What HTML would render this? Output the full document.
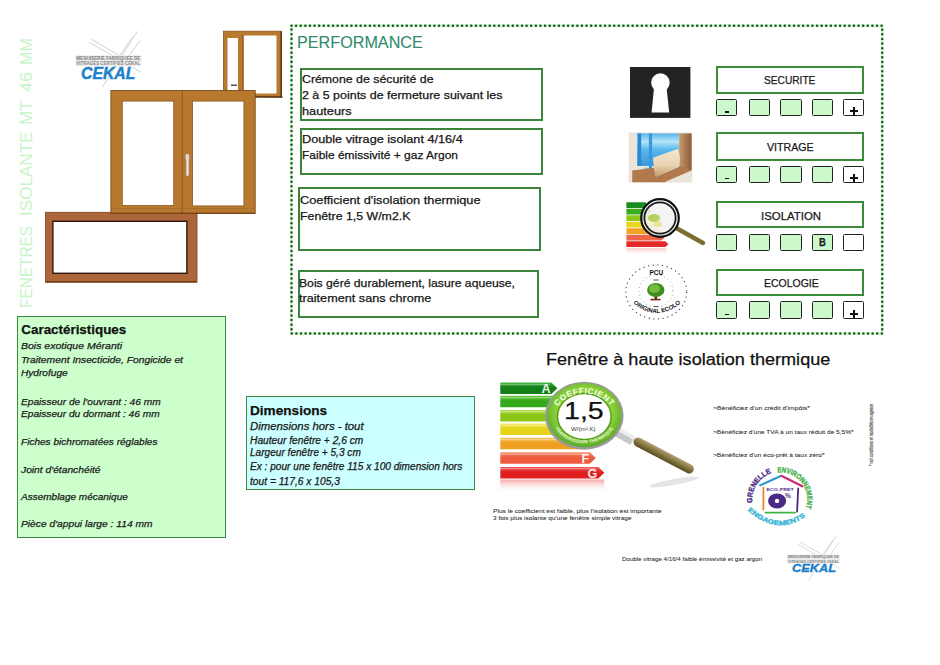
<!DOCTYPE html>
<html><head><meta charset="utf-8"><style>
html,body{margin:0;padding:0;background:#fff;}
body{width:940px;height:665px;position:relative;overflow:hidden;font-family:"Liberation Sans",sans-serif;}
.t{position:absolute;white-space:nowrap;line-height:1;transform-origin:0 0;-webkit-text-stroke:0.25px currentColor;}
.a{position:absolute;box-sizing:border-box;}
svg{position:absolute;overflow:visible;}
</style></head><body>
<svg style="left:0;top:0" width="940" height="665" viewBox="0 0 940 665"><g transform="translate(75.3,55.3) scale(1.0)" stroke="#b8b8b8" stroke-width="0.7" fill="none" opacity="0.9"><line x1="16" y1="-16" x2="44" y2="0"/><line x1="14" y1="-13" x2="66" y2="17"/><line x1="62" y1="-24" x2="27" y2="32"/><line x1="57" y1="-18" x2="38" y2="10"/><line x1="65" y1="-15" x2="48" y2="8"/></g><g transform="translate(75.3,55.3) scale(1.0)"><rect x="0" y="0" width="66" height="11" fill="#ebebeb"/><text x="1" y="4.6" font-family="Liberation Sans" font-weight="bold" font-size="4.6" fill="#808080" textLength="64" lengthAdjust="spacingAndGlyphs">MENUISERIE FABRIQUEE DE</text><text x="1" y="9.9" font-family="Liberation Sans" font-weight="bold" font-size="4.6" fill="#8a8a8a" textLength="64" lengthAdjust="spacingAndGlyphs">VITRAGES CERTIFIES CEKAL</text></g></svg>
<svg style="left:0;top:0" width="940" height="665" viewBox="0 0 940 665"><g transform="translate(787,554.7) scale(0.8)" stroke="#b8b8b8" stroke-width="0.7" fill="none" opacity="0.9"><line x1="16" y1="-16" x2="44" y2="0"/><line x1="14" y1="-13" x2="66" y2="17"/><line x1="62" y1="-24" x2="27" y2="32"/><line x1="57" y1="-18" x2="38" y2="10"/><line x1="65" y1="-15" x2="48" y2="8"/></g><g transform="translate(787,554.7) scale(0.8)"><rect x="0" y="0" width="66" height="11" fill="#ebebeb"/><text x="1" y="4.6" font-family="Liberation Sans" font-weight="bold" font-size="4.6" fill="#808080" textLength="64" lengthAdjust="spacingAndGlyphs">MENUISERIE FABRIQUEE DE</text><text x="1" y="9.9" font-family="Liberation Sans" font-weight="bold" font-size="4.6" fill="#8a8a8a" textLength="64" lengthAdjust="spacingAndGlyphs">VITRAGES CERTIFIES CEKAL</text></g></svg>
<svg style="left:0;top:0" width="940" height="665" viewBox="0 0 940 665">
<!-- small top window -->
<rect x="223.5" y="31.2" width="58" height="66" fill="#b87a2e"/>
<rect x="223.5" y="31.2" width="58" height="66" fill="none" stroke="#8a561c" stroke-width="0.8"/>
<rect x="227.5" y="38" width="10.5" height="52" fill="#fff"/>
<rect x="243.5" y="35.5" width="33" height="58" fill="#fff"/>
<line x1="243" y1="35" x2="243" y2="94" stroke="#7a4a18" stroke-width="1"/>
<line x1="242" y1="96.5" x2="282.5" y2="97" stroke="#5a3a18" stroke-width="1.3"/>
<line x1="281.2" y1="31.5" x2="281.2" y2="97" stroke="#4a2e12" stroke-width="1.3"/>
<rect x="231" y="84.5" width="6" height="1.5" fill="#555"/>
<!-- bottom wide window -->
<rect x="45.5" y="212.3" width="151.5" height="70" fill="#ad653a"/>
<rect x="45.5" y="212.3" width="151.5" height="70" fill="none" stroke="#7a4020" stroke-width="0.8"/>
<rect x="52.9" y="221.3" width="134" height="52" fill="#fff" stroke="#2e160a" stroke-width="1.4"/>
<line x1="46" y1="281.6" x2="196" y2="281.6" stroke="#6a3a1a" stroke-width="1"/>
<!-- double window -->
<rect x="110.9" y="90.5" width="144.3" height="123" fill="#b8782e"/>
<rect x="110.9" y="90.5" width="144.3" height="123" fill="none" stroke="#7a4e1c" stroke-width="0.9"/>
<rect x="122.3" y="101.1" width="51.4" height="104.4" fill="#fff" stroke="#8a5a22" stroke-width="0.8"/>
<rect x="192.6" y="101.1" width="51.3" height="104.8" fill="#fff" stroke="#8a5a22" stroke-width="0.8"/>
<line x1="182.3" y1="91" x2="182.3" y2="213" stroke="#8a5a22" stroke-width="1"/>
<line x1="111" y1="208.5" x2="255" y2="208.5" stroke="#a06a28" stroke-width="0.6"/>
<line x1="111" y1="213.2" x2="255" y2="213.2" stroke="#6a3a12" stroke-width="1"/>
<rect x="186.2" y="155" width="2.6" height="21" rx="1" fill="#e8e8e8" stroke="#999" stroke-width="0.4"/>
<rect x="185.6" y="154" width="3.6" height="6" rx="1" fill="#d8d8d8"/>
</svg>
<svg style="left:0;top:0" width="940" height="665" viewBox="0 0 940 665">
<rect x="291.5" y="25.7" width="590.7" height="307.9" fill="none" stroke="#d6f7d6" stroke-width="3.2"/>
<rect x="291.5" y="25.7" width="590.7" height="307.9" fill="none" stroke="#1e521e" stroke-width="2.5" stroke-dasharray="0.01 4.6" stroke-linecap="round"/>
</svg>
<div class="a" style="left:300px;top:67.5px;width:242.5px;height:53.5px;border:2px solid #3b853b;"></div>
<div class="a" style="left:300px;top:127.5px;width:242.5px;height:47.5px;border:2px solid #3b853b;"></div>
<div class="a" style="left:298px;top:187.2px;width:242.5px;height:63.8px;border:2px solid #3b853b;"></div>
<div class="a" style="left:297.5px;top:270.3px;width:241.5px;height:48.2px;border:2px solid #3b853b;"></div>
<div class="a" style="left:715.6px;top:65.6px;width:148.9px;height:28.2px;border:2px solid #3b8c3b;background:#fff;"></div>
<div class="a" style="left:715.6px;top:132.1px;width:148.9px;height:28.8px;border:2px solid #3b8c3b;background:#fff;"></div>
<div class="a" style="left:715.6px;top:200.9px;width:148.9px;height:27.5px;border:2px solid #3b8c3b;background:#fff;"></div>
<div class="a" style="left:715.6px;top:268.9px;width:148.9px;height:26.8px;border:2px solid #3b8c3b;background:#fff;"></div>
<div class="a" style="left:715.6px;top:98.8px;width:21.2px;height:17.0px;border:1.9px solid #222;border-radius:1.5px;background:#ccf9cc;"></div>
<div class="a" style="left:748.8px;top:98.8px;width:21.2px;height:17.0px;border:1.9px solid #222;border-radius:1.5px;background:#ccf9cc;"></div>
<div class="a" style="left:780.4px;top:98.8px;width:21.2px;height:17.0px;border:1.9px solid #222;border-radius:1.5px;background:#ccf9cc;"></div>
<div class="a" style="left:811.9px;top:98.8px;width:21.2px;height:17.0px;border:1.9px solid #222;border-radius:1.5px;background:#ccf9cc;"></div>
<div class="a" style="left:842.9px;top:98.8px;width:21.2px;height:17.0px;border:1.9px solid #222;border-radius:1.5px;background:#fff;"></div>
<div class="a" style="left:724.9px;top:111.1px;width:4.5px;height:1.6px;background:#111;"></div>
<div class="a" style="left:850.1999999999999px;top:110.39999999999999px;width:7.6px;height:1.8px;background:#111;"></div>
<div class="a" style="left:853.1px;top:107.2px;width:1.8px;height:8.4px;background:#111;"></div>
<div class="a" style="left:715.6px;top:165.6px;width:21.2px;height:17.0px;border:1.9px solid #222;border-radius:1.5px;background:#ccf9cc;"></div>
<div class="a" style="left:748.8px;top:165.6px;width:21.2px;height:17.0px;border:1.9px solid #222;border-radius:1.5px;background:#ccf9cc;"></div>
<div class="a" style="left:780.4px;top:165.6px;width:21.2px;height:17.0px;border:1.9px solid #222;border-radius:1.5px;background:#ccf9cc;"></div>
<div class="a" style="left:811.9px;top:165.6px;width:21.2px;height:17.0px;border:1.9px solid #222;border-radius:1.5px;background:#ccf9cc;"></div>
<div class="a" style="left:842.9px;top:165.6px;width:21.2px;height:17.0px;border:1.9px solid #222;border-radius:1.5px;background:#fff;"></div>
<div class="a" style="left:724.9px;top:177.9px;width:4.5px;height:1.6px;background:#111;"></div>
<div class="a" style="left:850.1999999999999px;top:177.2px;width:7.6px;height:1.8px;background:#111;"></div>
<div class="a" style="left:853.1px;top:174.0px;width:1.8px;height:8.4px;background:#111;"></div>
<div class="a" style="left:715.6px;top:233.7px;width:21.2px;height:17.2px;border:1.9px solid #222;border-radius:1.5px;background:#ccf9cc;"></div>
<div class="a" style="left:748.8px;top:233.7px;width:21.2px;height:17.2px;border:1.9px solid #222;border-radius:1.5px;background:#ccf9cc;"></div>
<div class="a" style="left:780.4px;top:233.7px;width:21.2px;height:17.2px;border:1.9px solid #222;border-radius:1.5px;background:#ccf9cc;"></div>
<div class="a" style="left:811.9px;top:233.7px;width:21.2px;height:17.2px;border:1.9px solid #222;border-radius:1.5px;background:#ccf9cc;"></div>
<div class="a" style="left:842.9px;top:233.7px;width:21.2px;height:17.2px;border:1.9px solid #222;border-radius:1.5px;background:#fff;"></div>
<div class="a" style="left:715.6px;top:301.4px;width:21.2px;height:17.2px;border:1.9px solid #222;border-radius:1.5px;background:#ccf9cc;"></div>
<div class="a" style="left:748.8px;top:301.4px;width:21.2px;height:17.2px;border:1.9px solid #222;border-radius:1.5px;background:#ccf9cc;"></div>
<div class="a" style="left:780.4px;top:301.4px;width:21.2px;height:17.2px;border:1.9px solid #222;border-radius:1.5px;background:#ccf9cc;"></div>
<div class="a" style="left:811.9px;top:301.4px;width:21.2px;height:17.2px;border:1.9px solid #222;border-radius:1.5px;background:#ccf9cc;"></div>
<div class="a" style="left:842.9px;top:301.4px;width:21.2px;height:17.2px;border:1.9px solid #222;border-radius:1.5px;background:#fff;"></div>
<div class="a" style="left:724.9px;top:313.7px;width:4.5px;height:1.6px;background:#111;"></div>
<div class="a" style="left:850.1999999999999px;top:313.0px;width:7.6px;height:1.8px;background:#111;"></div>
<div class="a" style="left:853.1px;top:309.79999999999995px;width:1.8px;height:8.4px;background:#111;"></div>
<svg style="left:0;top:0" width="940" height="665" viewBox="0 0 940 665">
<rect x="630" y="67" width="60.4" height="50.9" fill="#232323"/>
<circle cx="660.4" cy="82.6" r="9.25" fill="#fff"/>
<polygon points="654,88 666.6,88 669.2,112.5 651.6,112.5" fill="#fff"/>
</svg>
<svg style="left:0;top:0" width="940" height="665" viewBox="0 0 940 665">
<defs>
<linearGradient id="gb" x1="0" y1="0" x2="0" y2="1"><stop offset="0" stop-color="#5ab4ea"/><stop offset="0.25" stop-color="#b4e6fa"/><stop offset="0.5" stop-color="#5ab8ec"/><stop offset="1" stop-color="#3a96dc"/></linearGradient>
<linearGradient id="wd" x1="0" y1="0" x2="0" y2="1"><stop offset="0" stop-color="#f4ead6"/><stop offset="0.6" stop-color="#e6d2b0"/><stop offset="1" stop-color="#c49a6c"/></linearGradient>
<linearGradient id="wr" x1="0" y1="0" x2="1" y2="0"><stop offset="0" stop-color="#c89a6a"/><stop offset="1" stop-color="#8a5a3a"/></linearGradient>
</defs>
<rect x="628.6" y="132.5" width="63.6" height="50.1" fill="#ebe4d9"/>
<rect x="637.2" y="133.4" width="42" height="32.5" fill="url(#gb)"/>
<rect x="637.6" y="133.4" width="3.6" height="32.5" fill="#2a88d4"/>
<rect x="648.9" y="133.4" width="3.2" height="36.5" fill="#3a98dc"/>
<rect x="644" y="167.7" width="4.5" height="6.3" fill="#7cc8ee"/>
<rect x="679.2" y="133.4" width="12.4" height="37" fill="url(#wr)"/>
<polygon points="632.2,170.4 654.8,167.7 655.7,176.7 681,165.9 691.8,170.4 664.7,182.2 632.2,182.2" fill="#b07a4c"/>
<polygon points="653,157.8 678.2,148.8 680,157.8 679.2,165.9 655.7,176.7 653.9,168.6" fill="url(#wd)"/>
<polygon points="664.7,182.2 691.8,170.4 691.8,182.2" fill="#ebe4d9"/>
</svg>
<svg style="left:0;top:0" width="940" height="665" viewBox="0 0 940 665"><defs><linearGradient id="refl2" x1="0" y1="0" x2="0" y2="1"><stop offset="0" stop-color="#f4a0a0" stop-opacity="0.6"/><stop offset="1" stop-color="#fff" stop-opacity="0"/></linearGradient></defs><g transform="translate(626.4,202.3) scale(1.0)"><polygon points="0,0.0 19,0.0 22,2.9 19,5.8 0,5.8" fill="#1b8a1f"/><polygon points="0,6.5 22,6.5 25,9.4 22,12.3 0,12.3" fill="#3aad1e"/><polygon points="0,13.0 25,13.0 28,15.9 25,18.8 0,18.8" fill="#8fc61c"/><polygon points="0,19.5 28,19.5 31,22.4 28,25.3 0,25.3" fill="#e9d61f"/><polygon points="0,26.0 31,26.0 34,28.9 31,31.8 0,31.8" fill="#f2a324"/><polygon points="0,32.5 35,32.5 38,35.4 35,38.3 0,38.3" fill="#f0664a"/><polygon points="0,39.0 39,39.0 42,41.9 39,44.8 0,44.8" fill="#e62a2a"/><rect x="0" y="46" width="40" height="7" fill="url(#refl2)"/></g>
<line x1="677" y1="228.5" x2="703" y2="243" stroke="#7d6d33" stroke-width="4.4" stroke-linecap="round"/>
<circle cx="660" cy="218" r="18.8" fill="#f2f2f2" fill-opacity="0.88" stroke="#111" stroke-width="2.2"/>
<circle cx="660" cy="218" r="15.6" fill="none" stroke="#1a1a1a" stroke-width="1.8"/>
<ellipse cx="654" cy="218" rx="6" ry="4" fill="#a6c83a" opacity="0.8"/>
<ellipse cx="658" cy="224" rx="4" ry="3" fill="#e6e07a" opacity="0.8"/>
</svg>
<svg style="left:0;top:0" width="940" height="665" viewBox="0 0 940 665">
<ellipse cx="656.3" cy="292" rx="30.5" ry="27" fill="none" stroke="#333" stroke-width="1.1" stroke-dasharray="1.1 3.6"/>
<ellipse cx="656" cy="291" rx="17" ry="16" fill="none" stroke="#666" stroke-width="0.7" stroke-dasharray="0.9 3"/>
<rect x="654.5" y="293" width="2.6" height="6.5" fill="#6a2a1a"/>
<rect x="650.5" y="298.8" width="10" height="1.6" fill="#7a2a1a"/>
<ellipse cx="655.8" cy="290" rx="8.7" ry="7" fill="#3f8f1f"/>
<ellipse cx="654.5" cy="288.5" rx="5.5" ry="4.3" fill="#72bc40"/>
<path id="ecoB" d="M 633 303 Q 656 323 681 303" fill="none"/>
<text font-family="Liberation Sans" font-weight="bold" font-size="6" fill="#111"><textPath href="#ecoB" startOffset="50%" text-anchor="middle">ORIGINAL ECOLO</textPath></text>
<text x="656.3" y="275" font-family="Liberation Sans" font-weight="bold" font-size="6.5" fill="#111" text-anchor="middle">PCU</text>
<rect x="653.5" y="279.5" width="5" height="1" fill="#555"/>
<rect x="653.5" y="306" width="5" height="1" fill="#555"/>
</svg>
<div class="a" style="left:17px;top:315.6px;width:208.5px;height:222.6px;border:1.9px solid #3d8a45;background:#ccffcc;"></div>
<div class="a" style="left:245.6px;top:396.4px;width:229.8px;height:93.4px;border:1.9px solid #3d8a45;background:#ccffff;"></div>
<svg style="left:0;top:0" width="940" height="665" viewBox="0 0 940 665"><defs><linearGradient id="bb0" x1="0" y1="0" x2="0" y2="1"><stop offset="0" stop-color="#3cb43c"/><stop offset="0.45" stop-color="#137f17"/><stop offset="1" stop-color="#137f17"/></linearGradient><linearGradient id="bb1" x1="0" y1="0" x2="0" y2="1"><stop offset="0" stop-color="#6ccc3a"/><stop offset="0.45" stop-color="#35a81a"/><stop offset="1" stop-color="#35a81a"/></linearGradient><linearGradient id="bb2" x1="0" y1="0" x2="0" y2="1"><stop offset="0" stop-color="#b4dc48"/><stop offset="0.45" stop-color="#8cc418"/><stop offset="1" stop-color="#8cc418"/></linearGradient><linearGradient id="bb3" x1="0" y1="0" x2="0" y2="1"><stop offset="0" stop-color="#f2e65a"/><stop offset="0.45" stop-color="#e6d418"/><stop offset="1" stop-color="#e6d418"/></linearGradient><linearGradient id="bb4" x1="0" y1="0" x2="0" y2="1"><stop offset="0" stop-color="#f6c05a"/><stop offset="0.45" stop-color="#f0a020"/><stop offset="1" stop-color="#f0a020"/></linearGradient><linearGradient id="bb5" x1="0" y1="0" x2="0" y2="1"><stop offset="0" stop-color="#f68a6a"/><stop offset="0.45" stop-color="#ee5a3e"/><stop offset="1" stop-color="#ee5a3e"/></linearGradient><linearGradient id="bb6" x1="0" y1="0" x2="0" y2="1"><stop offset="0" stop-color="#f05a5a"/><stop offset="0.45" stop-color="#e21f1f"/><stop offset="1" stop-color="#e21f1f"/></linearGradient><linearGradient id="refl" x1="0" y1="0" x2="0" y2="1"><stop offset="0" stop-color="#f39a9a" stop-opacity="0.85"/><stop offset="1" stop-color="#fff" stop-opacity="0"/></linearGradient></defs><polygon points="500.3,382.6 551.4,382.6 557.4,388.35 551.4,394.1 500.3,394.1" fill="url(#bb0)"/><polygon points="500.3,395.8 559,395.8 565,401.55 559,407.3 500.3,407.3" fill="url(#bb1)"/><polygon points="500.3,410 566,410 572,415.75 566,421.5 500.3,421.5" fill="url(#bb2)"/><polygon points="500.3,423.6 574,423.6 580,429.35 574,435.1 500.3,435.1" fill="url(#bb3)"/><polygon points="500.3,437.8 582,437.8 588,443.55 582,449.3 500.3,449.3" fill="url(#bb4)"/><polygon points="500.3,452.3 589.8,452.3 595.8,458.05 589.8,463.8 500.3,463.8" fill="url(#bb5)"/><polygon points="500.3,466.9 598.3,466.9 604.3,472.65 598.3,478.4 500.3,478.4" fill="url(#bb6)"/><rect x="500.3" y="383.8" width="49.1" height="1.3" fill="#fff" opacity="0.35"/><rect x="500.3" y="397.0" width="56.7" height="1.3" fill="#fff" opacity="0.35"/><rect x="500.3" y="411.2" width="63.7" height="1.3" fill="#fff" opacity="0.35"/><rect x="500.3" y="424.8" width="71.7" height="1.3" fill="#fff" opacity="0.35"/><rect x="500.3" y="439.0" width="79.7" height="1.3" fill="#fff" opacity="0.35"/><rect x="500.3" y="453.5" width="87.5" height="1.3" fill="#fff" opacity="0.35"/><rect x="500.3" y="468.1" width="96.0" height="1.3" fill="#fff" opacity="0.35"/><rect x="500.3" y="479.5" width="104" height="13" fill="url(#refl)"/><ellipse cx="674" cy="482" rx="25" ry="3" fill="#999" opacity="0.25" transform="rotate(-10 674 482)"/><text x="541.5" y="392.6" font-family="Liberation Sans" font-weight="bold" font-size="12.5" fill="#fff" fill-opacity="0.92">A</text><text x="581.5" y="463.4" font-family="Liberation Sans" font-weight="bold" font-size="12.5" fill="#fff" fill-opacity="0.92">F</text><text x="587.5" y="478.0" font-family="Liberation Sans" font-weight="bold" font-size="12.5" fill="#fff" fill-opacity="0.92">G</text></svg>
<svg style="left:0;top:0" width="940" height="665" viewBox="0 0 940 665">
<defs>
<linearGradient id="hd" x1="0" y1="0" x2="0" y2="1"><stop offset="0" stop-color="#b0a070"/><stop offset="0.5" stop-color="#857540"/><stop offset="1" stop-color="#5a4a22"/></linearGradient>
<radialGradient id="gr" cx="0.5" cy="0.45" r="0.55"><stop offset="0.7" stop-color="#8cd03a"/><stop offset="1" stop-color="#5aa82a"/></radialGradient>
</defs>
<g transform="translate(634,440) rotate(27.6)">
<rect x="0" y="-4.6" width="67" height="9.2" rx="4.6" fill="url(#hd)"/>
</g>
<g transform="translate(617,432) rotate(30)">
<rect x="0" y="-4.5" width="18" height="9" fill="#c8c8c8"/>
<rect x="0" y="-4.5" width="18" height="3" fill="#eee"/>
</g>
<ellipse cx="584.3" cy="415.7" rx="39.3" ry="34" fill="#9a9a9a"/>
<ellipse cx="584.3" cy="415.2" rx="37.3" ry="32" fill="url(#gr)"/>
<ellipse cx="584.3" cy="416.5" rx="26" ry="22.2" fill="#fff"/>
<ellipse cx="584.3" cy="416.5" rx="27" ry="23.2" fill="none" stroke="#4f9a26" stroke-width="1.2"/>
<path id="arcT" d="M 553 418 A 31.5 27.5 0 0 1 615.6 418" fill="none"/>
<path id="arcB" d="M 551 414 A 33 29 0 0 0 617.6 414" fill="none"/>
<text font-family="Liberation Sans" font-weight="bold" font-size="8.2" fill="#f4fff0" letter-spacing="0.6"><textPath href="#arcT" startOffset="50%" text-anchor="middle">COEFFICIENT</textPath></text>
<text font-family="Liberation Sans" font-weight="bold" font-size="4.6" fill="#e8f8d8" letter-spacing="0.2"><textPath href="#arcB" startOffset="50%" text-anchor="middle">TRANSMISSION THERMIQUE</textPath></text>
</svg>
<svg style="left:0;top:0" width="940" height="665" viewBox="0 0 940 665">
<path id="gA" d="M 752.5 503 A 28 28 0 0 1 773.5 472.5" fill="none"/>
<path id="gB" d="M 777.5 472.5 A 27 27 0 0 1 805.5 509" fill="none"/>
<path id="gC" d="M 747.5 510.5 Q 777 537 806.5 516" fill="none"/>
<g font-family="Liberation Sans" font-weight="bold" font-size="7.4" stroke-width="0.35">
<text fill="#4b2a85" stroke="#4b2a85"><textPath href="#gA" textLength="38" lengthAdjust="spacingAndGlyphs">GRENELLE</textPath></text>
<text fill="#43b043" stroke="#43b043"><textPath href="#gB" textLength="54" lengthAdjust="spacingAndGlyphs">ENVIRONNEMENT</textPath></text>
<text fill="#36b4d6" stroke="#36b4d6" font-size="6.6"><textPath href="#gC" textLength="64" lengthAdjust="spacingAndGlyphs">ENGAGEMENTS</textPath></text>
</g>
<line x1="760.3" y1="485.3" x2="781.3" y2="475.8" stroke="#2f9bd0" stroke-width="2.2" stroke-linecap="round"/>
<line x1="781.3" y1="475.8" x2="802.4" y2="486.3" stroke="#cc2a78" stroke-width="2.2" stroke-linecap="round"/>
<line x1="763.4" y1="487.4" x2="763.4" y2="509.5" stroke="#e88a2a" stroke-width="1.8" stroke-linecap="round"/>
<line x1="798.2" y1="488.4" x2="797.1" y2="511.6" stroke="#4b2a85" stroke-width="1.8" stroke-linecap="round"/>
<line x1="765.5" y1="512.6" x2="795" y2="512.6" stroke="#43b043" stroke-width="1.8" stroke-linecap="round"/>
<ellipse cx="777.1" cy="500.9" rx="9" ry="7.5" fill="#4b2a85"/><circle cx="777" cy="500.9" r="2.2" fill="#fff"/>
<text x="785" y="497.8" font-family="Liberation Sans" font-weight="bold" font-size="6.6" fill="#4b2a85">%</text>
<text x="766.6" y="490.6" font-family="Liberation Sans" font-weight="bold" font-size="4.2" fill="#4b2a85" textLength="27" lengthAdjust="spacingAndGlyphs">ECO-PRET</text>
</svg>
<div class="t" style="left:19.23px;top:308.20px;font-size:15.8px;font-family:'Liberation Sans', sans-serif;color:#c8f4c8;transform:rotate(-90deg) scaleX(0.9743);-webkit-text-stroke:0;">FENETRES</div>
<div class="t" style="left:19.23px;top:216.00px;font-size:15.8px;font-family:'Liberation Sans', sans-serif;color:#c8f4c8;transform:rotate(-90deg) scaleX(1.0814);-webkit-text-stroke:0;">ISOLANTE</div>
<div class="t" style="left:19.23px;top:124.50px;font-size:15.8px;font-family:'Liberation Sans', sans-serif;color:#c8f4c8;transform:rotate(-90deg) scaleX(1.0696);-webkit-text-stroke:0;">MT</div>
<div class="t" style="left:19.23px;top:92.10px;font-size:15.8px;font-family:'Liberation Sans', sans-serif;color:#c8f4c8;transform:rotate(-90deg) scaleX(1.1378);-webkit-text-stroke:0;">46</div>
<div class="t" style="left:19.23px;top:65.30px;font-size:15.8px;font-family:'Liberation Sans', sans-serif;color:#c8f4c8;transform:rotate(-90deg) scaleX(1.0217);-webkit-text-stroke:0;">MM</div>
<div class="t" style="left:80.60px;top:65.40px;font-size:16.3px;font-family:'Liberation Sans', sans-serif;color:#1c80cc;font-weight:700;font-style:italic;transform:scaleX(0.9701);-webkit-text-stroke:0.5px #1c80cc;">CEKAL</div>
<div class="t" style="left:791.50px;top:563.31px;font-size:11.8px;font-family:'Liberation Sans', sans-serif;color:#1c80cc;font-weight:700;font-style:italic;transform:scaleX(1.0827);-webkit-text-stroke:0.4px #1c80cc;">CEKAL</div>
<div class="t" style="left:296.60px;top:34.36px;font-size:17.3px;font-family:'Liberation Sans', sans-serif;color:#2f8a6e;transform:scaleX(0.9359);-webkit-text-stroke:0.1px currentColor;">PERFORMANCE</div>
<div class="t" style="left:301.60px;top:73.82px;font-size:11.2px;font-family:'Liberation Sans', sans-serif;color:#161616;transform:scaleX(1.1013);">Crémone de sécurité de</div>
<div class="t" style="left:301.60px;top:90.12px;font-size:11.2px;font-family:'Liberation Sans', sans-serif;color:#161616;transform:scaleX(1.1117);">2 à  5 points de fermeture suivant les</div>
<div class="t" style="left:301.60px;top:105.82px;font-size:11.2px;font-family:'Liberation Sans', sans-serif;color:#161616;transform:scaleX(1.1390);">hauteurs</div>
<div class="t" style="left:301.60px;top:133.82px;font-size:11.2px;font-family:'Liberation Sans', sans-serif;color:#161616;transform:scaleX(1.1332);">Double vitrage isolant 4/16/4</div>
<div class="t" style="left:301.60px;top:150.12px;font-size:11.2px;font-family:'Liberation Sans', sans-serif;color:#161616;transform:scaleX(1.0698);">Faible émissivité + gaz Argon</div>
<div class="t" style="left:299.60px;top:194.62px;font-size:11.2px;font-family:'Liberation Sans', sans-serif;color:#161616;transform:scaleX(1.1428);">Coefficient d'isolation thermique</div>
<div class="t" style="left:299.60px;top:211.42px;font-size:11.2px;font-family:'Liberation Sans', sans-serif;color:#161616;transform:scaleX(1.1028);">Fenêtre 1,5 W/m2.K</div>
<div class="t" style="left:298.90px;top:278.12px;font-size:11.2px;font-family:'Liberation Sans', sans-serif;color:#161616;transform:scaleX(1.0887);">Bois géré durablement, lasure aqueuse,</div>
<div class="t" style="left:298.90px;top:292.72px;font-size:11.2px;font-family:'Liberation Sans', sans-serif;color:#161616;transform:scaleX(1.1325);">traitement sans chrome</div>
<div class="t" style="left:764.40px;top:75.06px;font-size:10.8px;font-family:'Liberation Sans', sans-serif;color:#1a1a1a;transform:scaleX(0.9415);">SECURITE</div>
<div class="t" style="left:766.60px;top:142.16px;font-size:10.8px;font-family:'Liberation Sans', sans-serif;color:#1a1a1a;transform:scaleX(0.9830);">VITRAGE</div>
<div class="t" style="left:760.50px;top:210.86px;font-size:10.8px;font-family:'Liberation Sans', sans-serif;color:#1a1a1a;transform:scaleX(1.0564);">ISOLATION</div>
<div class="t" style="left:763.50px;top:277.76px;font-size:10.8px;font-family:'Liberation Sans', sans-serif;color:#1a1a1a;transform:scaleX(0.9698);">ECOLOGIE</div>
<div class="t" style="left:819.20px;top:237.06px;font-size:10.8px;font-family:'Liberation Sans', sans-serif;color:#1a1a1a;font-weight:700;transform:scaleX(0.8704);">B</div>
<div class="t" style="left:21.30px;top:322.96px;font-size:13.4px;font-family:'Liberation Sans', sans-serif;color:#111;font-weight:700;">Caractéristiques</div>
<div class="t" style="left:21.30px;top:340.86px;font-size:9.5px;font-family:'Liberation Sans', sans-serif;color:#1a1a1a;font-style:italic;transform:scaleX(1.1055);">Bois exotique Méranti</div>
<div class="t" style="left:21.30px;top:354.96px;font-size:9.5px;font-family:'Liberation Sans', sans-serif;color:#1a1a1a;font-style:italic;transform:scaleX(1.0853);">Traitement Insecticide, Fongicide et</div>
<div class="t" style="left:21.30px;top:368.26px;font-size:9.5px;font-family:'Liberation Sans', sans-serif;color:#1a1a1a;font-style:italic;transform:scaleX(1.0651);">Hydrofuge</div>
<div class="t" style="left:21.30px;top:396.66px;font-size:9.5px;font-family:'Liberation Sans', sans-serif;color:#1a1a1a;font-style:italic;transform:scaleX(1.0685);">Epaisseur de l'ouvrant : 46 mm</div>
<div class="t" style="left:21.30px;top:408.86px;font-size:9.5px;font-family:'Liberation Sans', sans-serif;color:#1a1a1a;font-style:italic;transform:scaleX(1.0669);">Epaisseur du dormant : 46 mm</div>
<div class="t" style="left:21.30px;top:437.36px;font-size:9.5px;font-family:'Liberation Sans', sans-serif;color:#1a1a1a;font-style:italic;transform:scaleX(1.0594);">Fiches bichromatées réglables</div>
<div class="t" style="left:21.30px;top:464.56px;font-size:9.5px;font-family:'Liberation Sans', sans-serif;color:#1a1a1a;font-style:italic;transform:scaleX(1.0793);">Joint d'étanchéité</div>
<div class="t" style="left:21.30px;top:492.16px;font-size:9.5px;font-family:'Liberation Sans', sans-serif;color:#1a1a1a;font-style:italic;transform:scaleX(1.0532);">Assemblage mécanique</div>
<div class="t" style="left:21.30px;top:519.36px;font-size:9.5px;font-family:'Liberation Sans', sans-serif;color:#1a1a1a;font-style:italic;transform:scaleX(1.0775);">Pièce d'appui large : 114 mm</div>
<div class="t" style="left:249.70px;top:403.57px;font-size:13.5px;font-family:'Liberation Sans', sans-serif;color:#111;font-weight:700;transform:scaleX(1.0074);">Dimensions</div>
<div class="t" style="left:249.70px;top:421.84px;font-size:10px;font-family:'Liberation Sans', sans-serif;color:#1a1a1a;font-style:italic;transform:scaleX(1.1355);">Dimensions hors - tout</div>
<div class="t" style="left:249.70px;top:435.64px;font-size:10px;font-family:'Liberation Sans', sans-serif;color:#1a1a1a;font-style:italic;transform:scaleX(1.0216);">Hauteur fenêtre + 2,6 cm</div>
<div class="t" style="left:249.70px;top:448.44px;font-size:10px;font-family:'Liberation Sans', sans-serif;color:#1a1a1a;font-style:italic;transform:scaleX(1.0091);">Largeur fenêtre + 5,3 cm</div>
<div class="t" style="left:249.70px;top:461.94px;font-size:10px;font-family:'Liberation Sans', sans-serif;color:#1a1a1a;font-style:italic;transform:scaleX(1.0112);">Ex : pour une fenêtre 115 x 100 dimension hors</div>
<div class="t" style="left:249.70px;top:476.54px;font-size:10px;font-family:'Liberation Sans', sans-serif;color:#1a1a1a;font-style:italic;transform:scaleX(1.0221);">tout = 117,6 x 105,3</div>
<div class="t" style="left:546.00px;top:351.20px;font-size:16.3px;font-family:'Liberation Sans', sans-serif;color:#111;transform:scaleX(1.1099);">Fenêtre à haute isolation thermique</div>
<div class="t" style="left:564.00px;top:399.38px;font-size:24px;font-family:'Liberation Sans', sans-serif;color:#111;transform:scaleX(1.1895);">1,5</div>
<div class="t" style="left:571.00px;top:427.27px;font-size:5px;font-family:'Liberation Sans', sans-serif;color:#333;transform:scaleX(1.2300);-webkit-text-stroke:0;">W/(m².K)</div>
<div class="t" style="left:493.40px;top:508.60px;font-size:5.2px;font-family:'Liberation Sans', sans-serif;color:#2a2a2a;transform:scaleX(1.2791);-webkit-text-stroke:0.05px currentColor;">Plus le coefficient est faible, plus l'isolation est importante</div>
<div class="t" style="left:493.40px;top:515.90px;font-size:5.2px;font-family:'Liberation Sans', sans-serif;color:#2a2a2a;transform:scaleX(1.2534);-webkit-text-stroke:0.05px currentColor;">3 fois plus isolante qu'une fenêtre simple vitrage</div>
<div class="t" style="left:713.20px;top:406.10px;font-size:5.2px;font-family:'Liberation Sans', sans-serif;color:#2a2a2a;transform:scaleX(1.2968);-webkit-text-stroke:0.05px currentColor;">>Bénéficiez d'un crédit d'impôts*</div>
<div class="t" style="left:713.20px;top:429.60px;font-size:5.2px;font-family:'Liberation Sans', sans-serif;color:#2a2a2a;transform:scaleX(1.2620);-webkit-text-stroke:0.05px currentColor;">>Bénéficiez d'une TVA à un taux réduit de 5,5%*</div>
<div class="t" style="left:713.20px;top:452.70px;font-size:5.2px;font-family:'Liberation Sans', sans-serif;color:#2a2a2a;transform:scaleX(1.2720);-webkit-text-stroke:0.05px currentColor;">>Bénéficiez d'un éco-prêt à taux zéro*</div>
<div class="t" style="left:621.60px;top:557.46px;font-size:5.6px;font-family:'Liberation Sans', sans-serif;color:#2a2a2a;transform:scaleX(1.1050);-webkit-text-stroke:0.05px currentColor;">Double vitrage 4/16/4 faible émissivité et gaz argon</div>
<div class="t" style="left:869.91px;top:466.00px;font-size:4.6px;font-family:'Liberation Sans', sans-serif;color:#666;transform:rotate(-90deg) scaleX(0.7634);">* voir conditions et modalités en agence</div>
</body></html>
